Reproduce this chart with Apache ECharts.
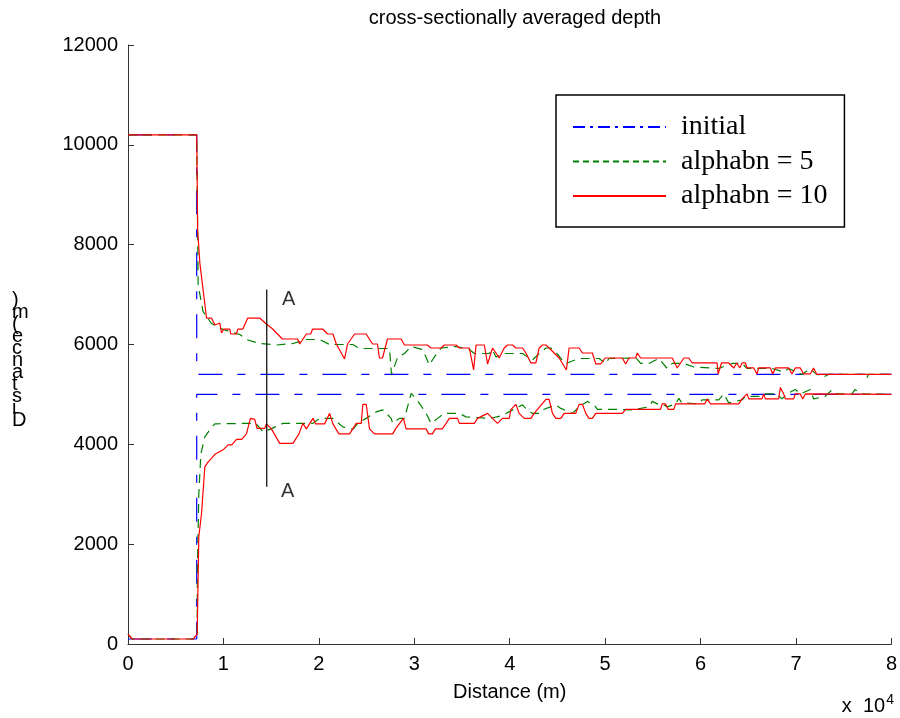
<!DOCTYPE html>
<html>
<head>
<meta charset="utf-8">
<script src="https://cdn.jsdelivr.net/npm/echarts@6/dist/echarts.min.js"></script>
<style>
  html, body { margin: 0; padding: 0; background: #fff; }
  #chart { width: 900px; height: 718px; }
</style>
</head>
<body>
<div id="chart"></div>
<script>
// distance (m), depth (m)
const initialUpper = [[0, 10200], [7200, 10200], [7200, 5400], [80000, 5400]];
const initialLower = [[0, 100], [7200, 100], [7200, 5000], [80000, 5000]];

const a5Upper = [
  [0, 10200], [7200, 10200], [7350, 7190], [7870, 6660], [8750, 6420], [9970, 6300],
  [11710, 6200], [12410, 6100], [13800, 6020], [15550, 5990], [17290, 6020], [18690, 6100],
  [20080, 6100], [21120, 6000], [23560, 6000], [24260, 5920], [27400, 5920], [27610, 5400],
  [28270, 5750], [28970, 5820], [29670, 5960], [30880, 5900], [31580, 5590], [32100, 5750],
  [32810, 5930], [34380, 5960], [35770, 5900], [36290, 5820], [37860, 5820], [38170, 5900],
  [38560, 5750], [39420, 5820], [41340, 5820], [42380, 5690], [43090, 5820], [43790, 5930],
  [44310, 5930], [44830, 5850], [45360, 5720], [45880, 5620], [47270, 5720], [49360, 5720],
  [50060, 5620], [50400, 5720], [53230, 5730], [53720, 5620], [54590, 5620], [55630, 5720],
  [56500, 5520], [57030, 5620], [58250, 5620], [59290, 5550], [61910, 5520], [63300, 5620],
  [64350, 5620], [64870, 5520], [67490, 5520], [68710, 5450], [69230, 5520], [70620, 5400],
  [71500, 5520], [72020, 5420], [72890, 5350], [73410, 5400], [77200, 5400], [77420, 5330],
  [77590, 5400], [80000, 5400]
];
const a5Lower = [
  [0, 200], [420, 100], [6830, 100], [7250, 200], [7270, 1500], [7420, 3000], [7630, 3800],
  [8050, 4150], [8580, 4290], [9100, 4410], [12410, 4420], [13380, 4420], [14150, 4250],
  [14850, 4300], [16240, 4420], [19370, 4420], [20080, 4520], [21470, 4520], [22510, 4350],
  [23560, 4300], [24080, 4420], [24960, 4520], [26010, 4650], [26700, 4690], [27580, 4520],
  [27740, 4420], [28440, 4520], [28970, 4520], [29670, 5020], [30010, 4950], [30540, 4820],
  [31240, 4620], [31760, 4420], [32450, 4520], [33150, 4620], [34720, 4620], [35420, 4550],
  [38020, 4520], [39250, 4580], [40300, 4690], [41340, 4790], [41830, 4690], [42390, 4620],
  [43090, 4620], [43430, 4690], [44830, 4790], [45360, 4720], [46570, 4620], [47270, 4750],
  [48140, 4860], [48840, 4790], [49190, 4700], [51450, 4700], [52850, 4690], [54590, 4750],
  [54940, 4860], [55460, 4810], [55950, 4810], [56510, 4750], [57380, 4810], [57720, 4920],
  [58040, 4830], [59810, 4810], [60160, 4890], [61910, 4890], [62430, 5010], [62950, 4830],
  [64350, 4890], [64700, 4960], [66430, 4960], [66790, 5010], [68000, 5010], [68520, 4910],
  [69230, 5030], [69920, 5100], [70450, 5010], [71500, 5100], [71840, 4910], [73060, 4960],
  [73760, 5090], [74280, 5010], [75850, 5010], [76200, 5100], [76730, 5010], [80000, 5000]
];

const a10Upper = [
  [0, 10200], [7200, 10200], [7300, 8290], [7530, 7630], [8230, 6530], [8750, 6530],
  [9100, 6390], [9620, 6430], [9800, 6230], [10040, 6310], [10670, 6310], [10770, 6210],
  [11370, 6210], [11500, 6310], [12030, 6310], [12550, 6530], [13800, 6530], [14500, 6410],
  [15160, 6310], [16180, 6110], [17780, 6110], [17990, 6010], [18690, 6210], [19140, 6210],
  [19350, 6310], [20390, 6310], [20920, 6210], [21470, 6210], [21830, 6010], [22350, 5830],
  [22690, 5710], [23010, 6010], [23740, 6210], [24960, 6210], [25620, 6010], [26140, 6010],
  [26350, 5730], [26670, 5730], [27190, 6110], [28620, 6110], [28970, 5990], [31370, 5990],
  [31760, 5930], [32810, 5930], [33150, 5990], [34380, 5990], [34720, 5930], [35770, 5930],
  [36220, 5490], [36470, 5990], [37340, 5990], [37680, 5610], [38200, 5930], [38560, 5830],
  [38900, 5730], [39420, 5930], [39770, 5990], [40300, 5990], [40650, 5930], [41340, 5930],
  [41700, 5830], [42220, 5630], [42740, 5630], [43090, 5930], [43430, 5990], [43790, 5990],
  [44130, 5930], [45180, 5730], [45940, 5490], [46220, 5930], [47270, 5930], [47620, 5830],
  [48660, 5830], [49020, 5610], [49540, 5610], [49990, 5730], [51800, 5730], [52150, 5610],
  [52500, 5730], [53200, 5730], [53370, 5830], [53720, 5730], [57030, 5730], [57550, 5530],
  [58250, 5730], [58770, 5730], [59120, 5630], [61730, 5630], [61840, 5410], [62190, 5630],
  [62950, 5630], [63480, 5530], [63790, 5630], [64100, 5530], [64350, 5630], [64700, 5630],
  [64870, 5530], [65570, 5530], [65910, 5410], [66090, 5530], [67310, 5530], [67560, 5410],
  [67840, 5530], [69230, 5530], [69570, 5410], [69930, 5530], [70450, 5530], [70800, 5410],
  [71500, 5410], [71840, 5530], [72190, 5400], [80000, 5400]
];
const a10Lower = [
  [0, 200], [450, 100], [6830, 100], [7250, 200], [7420, 2150], [7710, 2620], [8050, 3550],
  [8400, 3650], [8750, 3720], [9100, 3800], [9970, 3890], [10490, 3990], [10880, 3990],
  [11370, 4100], [11920, 4100], [12410, 4210], [12830, 4520], [13280, 4500], [13520, 4320],
  [14330, 4320], [14500, 4410], [15030, 4310], [15900, 4020], [17290, 4020], [17910, 4210],
  [18330, 4420], [18690, 4310], [19380, 4520], [19660, 4410], [20600, 4410], [21130, 4620],
  [21470, 4410], [22100, 4210], [23220, 4210], [23920, 4420], [24440, 4420], [24610, 4800],
  [24960, 4800], [25310, 4310], [25830, 4210], [27740, 4210], [28030, 4310], [28860, 4520],
  [29140, 4310], [31240, 4310], [31510, 4210], [31900, 4210], [32210, 4310], [32940, 4310],
  [33330, 4420], [33670, 4520], [34540, 4520], [34720, 4420], [36290, 4420], [36630, 4520],
  [37680, 4620], [38200, 4520], [38720, 4420], [39250, 4520], [39950, 4520], [40130, 4700],
  [40650, 4800], [40990, 4620], [41520, 4520], [42220, 4520], [42560, 4620], [43790, 4900],
  [44130, 4900], [44480, 4620], [44830, 4520], [45360, 4520], [45700, 4620], [46920, 4620],
  [47270, 4800], [47620, 4800], [47970, 4620], [48310, 4520], [48660, 4520], [49020, 4620],
  [51800, 4620], [52150, 4700], [55810, 4700], [55980, 4810], [56330, 4810], [56610, 4700],
  [57200, 4700], [57380, 4810], [60440, 4810], [60690, 4910], [61040, 4810], [64000, 4810],
  [64350, 4910], [64870, 5010], [65050, 4910], [66440, 4910], [66610, 5010], [66790, 4910],
  [68180, 4910], [68360, 5140], [68710, 5010], [68880, 4910], [69750, 4910], [69930, 5010],
  [70450, 5010], [70700, 4910], [70980, 5010], [80000, 5000]
];

// section A-A marker
const sectionLine = [[14540, 7100], [14540, 3150]];
const sectionLabels = [[16840, 6910], [16730, 3065]];

const seriesNames = ['initial', 'alphabn = 5', 'alphabn = 10'];

const chart = echarts.init(document.getElementById('chart'));

const sans = 'Liberation Sans, Arial, sans-serif';
const serif = 'Liberation Serif, Times New Roman, serif';
const blue = { color: '#0000ff', width: 1.2, type: [24, 15, 8, 15] };
const green = { color: '#008000', width: 1.2, type: [9, 6] };
const red = { color: '#ff0000', width: 1.2 };

function line(name, data, style) {
  return {
    name, type: 'line', data, symbol: 'none', silent: true,
    lineStyle: style, itemStyle: { color: style.color }
  };
}

chart.setOption({
  animation: false,
  title: {
    text: 'cross-sectionally averaged depth',
    left: 510, top: 3, textAlign: 'center',
    textStyle: { fontFamily: sans, fontSize: 20, fontWeight: 'normal', color: '#000' }
  },
  grid: { left: 128, right: 7, top: 45, bottom: 74 },
  legend: {
    orient: 'vertical',
    left: 556, top: 95,
    padding: [18, 17, 17, 16],
    itemWidth: 93, itemHeight: 14, itemGap: 6.5,
    itemStyle: { opacity: 0 },
    backgroundColor: '#fff', borderColor: '#000', borderWidth: 1.5, borderRadius: 0,
    textStyle: { fontFamily: serif, fontSize: 28, lineHeight: 28, color: '#000', padding: [0, 0, 0, 10] },
    data: [
      { name: seriesNames[0], lineStyle: { type: [12, 5, 3, 5] } },
      { name: seriesNames[1], lineStyle: { type: [6, 4] } },
      { name: seriesNames[2] }
    ]
  },
  xAxis: {
    type: 'value', min: 0, max: 80000, interval: 10000,
    name: 'Distance (m)', nameLocation: 'middle', nameGap: 38,
    nameTextStyle: { fontFamily: sans, fontSize: 20, color: '#000' },
    axisLine: { lineStyle: { color: '#333', width: 1 } },
    axisTick: { inside: true, length: 6, lineStyle: { color: '#333' } },
    axisLabel: { formatter: v => v / 10000, fontFamily: sans, fontSize: 20, color: '#000', margin: 10 },
    splitLine: { show: false }
  },
  yAxis: {
    type: 'value', min: 0, max: 12000, interval: 2000,
    axisLine: { show: true, lineStyle: { color: '#333', width: 1 } },
    axisTick: { show: true, inside: true, length: 6, lineStyle: { color: '#333' } },
    axisLabel: { formatter: v => String(v), fontFamily: sans, fontSize: 20, color: '#000', margin: 10 },
    splitLine: { show: false }
  },
  graphic: [
    {
      type: 'text', left: 12, top: 290,
      style: {
        text: 'Distance (m)'.replace(' ', '').split('').reverse().join('\n'),
        fontFamily: sans, fontSize: 20, lineHeight: 12, fill: '#000', align: 'center'
      }
    },
    {
      type: 'text', right: 6, top: 693,
      style: {
        text: 'x  10{sup|4}', fontFamily: sans, fontSize: 20, fill: '#000',
        rich: { sup: { fontFamily: sans, fontSize: 14, verticalAlign: 'top', padding: [0, 0, 12, 1] } }
      }
    }
  ],
  series: [
    line(seriesNames[0], initialUpper, blue),
    line(seriesNames[0], initialLower, blue),
    line(seriesNames[1], a5Upper, green),
    line(seriesNames[1], a5Lower, green),
    line(seriesNames[2], a10Upper, red),
    line(seriesNames[2], a10Lower, red),
    {
      name: 'section', type: 'line', data: sectionLine, symbol: 'none', silent: true,
      lineStyle: { color: '#000', width: 1.2 }
    },
    {
      name: 'sectionLabel', type: 'scatter', data: sectionLabels, symbolSize: 1, silent: true,
      itemStyle: { color: 'rgba(0,0,0,0)' },
      label: { show: true, position: 'inside', formatter: 'A', fontFamily: sans, fontSize: 20, color: '#000' }
    }
  ]
});
</script>
</body>
</html>
